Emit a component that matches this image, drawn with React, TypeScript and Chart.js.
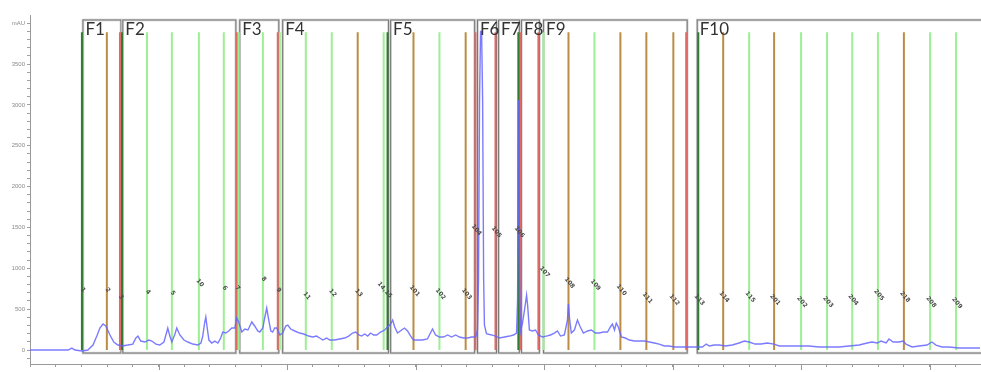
import React, { useEffect, useRef } from "react";
import { Chart, registerables } from "chart.js";

Chart.register(...registerables);

// Chromatogram trace (retention units, mAU)
const retention = [
  0, 1.17, 1.48, 1.63, 1.75, 2.02, 2.25, 2.45, 2.6, 2.72, 2.84, 2.95, 3.11, 3.26, 3.42, 3.58, 3.81, 4.0, 4.12, 4.2,
  4.31, 4.47, 4.62, 4.74, 4.9, 5.05, 5.21, 5.32, 5.36, 5.44, 5.52, 5.64, 5.71, 5.83, 5.99, 6.14, 6.33, 6.53, 6.65, 6.72,
  6.8, 6.84, 6.88, 6.96, 7.07, 7.19, 7.31, 7.42, 7.5, 7.62, 7.73, 7.85, 7.97, 8.04, 8.12, 8.24, 8.36, 8.48, 8.63, 8.74,
  8.86, 8.94, 9.06, 9.13, 9.21, 9.29, 9.37, 9.44, 9.52, 9.6, 9.72, 9.83, 9.95, 10.03, 10.14, 10.3, 10.49, 10.65, 10.84, 11.0,
  11.15, 11.27, 11.39, 11.54, 11.66, 11.85, 12.05, 12.24, 12.4, 12.55, 12.67, 12.79, 12.9, 13.02, 13.14, 13.25, 13.37, 13.49, 13.64, 13.8,
  13.91, 14.03, 14.11, 14.19, 14.3, 14.46, 14.57, 14.69, 14.81, 14.92, 15.08, 15.27, 15.46, 15.58, 15.66, 15.78, 15.93, 16.09, 16.25, 16.4,
  16.56, 16.71, 16.87, 17.03, 17.18, 17.34, 17.41, 17.45, 17.49, 17.53, 17.57, 17.61, 17.65, 17.68, 17.76, 17.88, 18.03, 18.15, 18.27, 18.46,
  18.66, 18.81, 18.93, 18.97, 19.01, 19.05, 19.08, 19.16, 19.24, 19.32, 19.36, 19.43, 19.55, 19.67, 19.78, 19.94, 20.09, 20.25, 20.4, 20.52,
  20.64, 20.79, 20.91, 20.95, 20.99, 21.06, 21.18, 21.3, 21.41, 21.53, 21.69, 21.84, 22.0, 22.15, 22.31, 22.47, 22.58, 22.66, 22.74, 22.81,
  22.89, 23.01, 23.16, 23.32, 23.51, 23.71, 23.9, 24.1, 24.29, 24.48, 24.68, 24.87, 25.07, 25.46, 25.84, 26.16, 26.31, 26.43, 26.62, 26.82,
  27.05, 27.32, 27.59, 27.79, 27.98, 28.21, 28.45, 28.68, 28.95, 29.15, 29.54, 29.93, 30.31, 30.7, 31.09, 31.48, 31.87, 32.26, 32.57, 32.76,
  32.96, 33.11, 33.31, 33.42, 33.58, 33.81, 33.97, 34.08, 34.32, 34.59, 34.9, 35.09, 35.25, 35.48, 35.76, 36.14, 36.53, 36.96,
];
const absorbance = [
  0, 0, 0, 24, 0, -12, 0, 61, 171, 269, 318, 294, 184, 98, 61, 49, 61, 73, 147, 171,
  110, 98, 122, 110, 73, 61, 98, 220, 269, 171, 98, 196, 269, 184, 122, 98, 73, 61, 86, 171,
  343, 404, 306, 122, 86, 110, 86, 147, 220, 208, 233, 269, 269, 392, 343, 220, 257, 245, 343, 294,
  233, 220, 269, 392, 514, 367, 233, 220, 269, 269, 184, 208, 294, 306, 257, 233, 208, 196, 171, 159,
  171, 147, 122, 147, 122, 122, 135, 147, 171, 208, 220, 184, 171, 196, 171, 208, 184, 184, 220, 245,
  282, 318, 367, 282, 208, 245, 269, 233, 171, 122, 122, 122, 135, 208, 257, 184, 159, 159, 184, 159,
  184, 159, 147, 147, 159, 159, 245, 857, 3060, 3900, 3900, 3060, 857, 306, 200, 190, 180, 165, 147, 159,
  171, 184, 208, 612, 3060, 857, 220, 330, 490, 673, 551, 245, 233, 245, 184, 159, 171, 184, 208, 233,
  171, 184, 367, 563, 392, 208, 245, 367, 282, 208, 233, 245, 208, 208, 220, 220, 282, 318, 245, 330,
  282, 159, 147, 122, 110, 110, 110, 98, 86, 73, 49, 49, 37, 37, 37, 37, 73, 49, 61, 61,
  49, 61, 86, 110, 98, 73, 73, 86, 73, 49, 49, 49, 49, 37, 37, 37, 49, 61, 86, 98,
  86, 110, 86, 135, 98, 98, 110, 73, 37, 49, 61, 98, 61, 37, 37, 24, 24, 24,
];

// Fraction-collector marks
const fractionPos = [
  2.02, 2.99, 3.5, 3.58, 4.55, 5.52, 6.57, 7.54, 8.04, 8.12, 9.06, 9.64, 9.72, 10.73, 11.74, 12.75, 13.76, 13.91,
  14.92, 15.93, 16.95, 17.33, 18.11, 19.0, 19.08, 19.78, 19.98, 20.95, 21.96, 22.97, 23.98, 25.03, 25.53, 26.0,
  26.97, 27.98, 28.95, 30.0, 31.01, 31.99, 32.99, 34.0, 35.02, 36.03,
];
const fractionKind = [
  "d", "b", "r", "d", "g", "g", "g", "g", "r", "g", "g", "r", "g", "g", "g", "b", "g", "d",
  "b", "g", "b", "r", "r", "d", "r", "r", "g", "b", "g", "b", "b", "b", "r", "d",
  "b", "g", "b", "g", "g", "g", "g", "b", "g", "g",
];
const fractionLabel = [
  "1", "2", "3", "", "4", "5", "10", "6", "7", "", "8", "9", "", "11", "12", "13", "14,15", "",
  "101", "102", "103", "104", "105", "106", "", "", "107", "108", "109", "110", "111", "112", "", "113",
  "114", "115", "201", "202", "203", "204", "205", "218", "208", "209",
];
const fractionLabelY = [
  734, 734, 649, 0, 710, 698, 820, 759, 759, 0, 869, 734, 0, 661, 698, 698, 734, 0,
  722, 685, 685, 1469, 1444, 1444, 0, 0, 955, 820, 796, 734, 636, 612, 0, 612,
  649, 649, 612, 587, 587, 612, 673, 649, 587, 575,
];
const FRACTION_TOP = 3890;

// Fraction pools
const boxNames = ["F1", "F2", "F3", "F4", "F5", "F6", "F7", "F8", "F9", "F10"];
const boxStart = [2.06, 3.61, 8.16, 9.83, 14.03, 17.41, 18.23, 19.12, 19.98, 25.96];
const boxEnd = [3.54, 8.01, 9.68, 13.95, 17.3, 18.15, 19.04, 19.82, 25.57, 38.5];
const BOX_TOP = 4039;
const BOX_BOTTOM = -37;

const yLabelValues = [0, 500, 1000, 1500, 2000, 2500, 3000, 3500];
const yUnitLabel = "mAU";

const kindColor: Record<string, string> = {
  g: "#9cef92",
  b: "#bb8d44",
  r: "#e26a66",
  d: "#2f7d34",
};

const overlayPlugin = {
  id: "fractionOverlay",
  beforeDatasetsDraw(chart: any) {
    const { ctx, chartArea, scales } = chart;
    const x = scales.x;
    const y = scales.y;
    ctx.save();
    ctx.beginPath();
    ctx.rect(chartArea.left, 0, chartArea.right - chartArea.left, chart.height);
    ctx.clip();
    const t = y.getPixelForValue(BOX_TOP);
    const b = y.getPixelForValue(BOX_BOTTOM);
    boxNames.forEach((_, i) => {
      const l = x.getPixelForValue(boxStart[i]);
      const r = x.getPixelForValue(boxEnd[i]);
      ctx.strokeStyle = "#d2d2d2";
      ctx.lineWidth = 2.6;
      ctx.strokeRect(l, t, r - l, b - t);
      ctx.strokeStyle = "#777";
      ctx.lineWidth = 1;
      ctx.strokeRect(l, t, r - l, b - t);
    });
    ctx.restore();
  },
  afterDatasetsDraw(chart: any) {
    const { ctx, scales } = chart;
    const x = scales.x;
    const y = scales.y;
    ctx.save();
    // pool names
    ctx.fillStyle = "#333";
    ctx.font = "17px Lato, 'Open Sans', sans-serif";
    ctx.textBaseline = "alphabetic";
    ctx.textAlign = "left";
    const t = y.getPixelForValue(BOX_TOP);
    boxNames.forEach((name, i) => {
      const l = x.getPixelForValue(boxStart[i]);
      ctx.fillText(name, l + 2.5, t + 15.5);
    });
    // rotated tube numbers
    ctx.font = "bold 6px 'DejaVu Sans', sans-serif";
    ctx.fillStyle = "#4a4a4a";
    ctx.textAlign = "center";
    ctx.textBaseline = "middle";
    fractionLabel.forEach((lab, i) => {
      if (!lab) return;
      const px = x.getPixelForValue(fractionPos[i]) + 1;
      const py = y.getPixelForValue(fractionLabelY[i]);
      ctx.save();
      ctx.translate(px, py);
      ctx.rotate((50 * Math.PI) / 180);
      ctx.fillText(lab, 0, 0);
      ctx.restore();
    });
    // longer major ticks on x axis
    ctx.strokeStyle = "#999";
    ctx.lineWidth = 1;
    const base = chart.chartArea.bottom;
    for (let v = 5; v <= 35; v += 5) {
      const px = Math.round(x.getPixelForValue(v)) + 0.5;
      ctx.beginPath();
      ctx.moveTo(px, base);
      ctx.lineTo(px, base + 6);
      ctx.stroke();
    }
    ctx.restore();
  },
};

export default function App() {
  const ref = useRef<HTMLCanvasElement | null>(null);

  useEffect(() => {
    if (!ref.current) return;
    const trace = retention.map((r, i) => ({ x: r, y: absorbance[i] }));
    const fractionSets = fractionPos.map((p, i) => ({
      data: [
        { x: p, y: 0 },
        { x: p, y: FRACTION_TOP },
      ],
      borderColor: kindColor[fractionKind[i]],
      borderWidth: 2,
      pointRadius: 0,
      fill: false,
    }));
    const chart = new Chart(ref.current, {
      type: "line",
      data: {
        datasets: [
          {
            data: trace,
            borderColor: "rgba(100,100,255,0.85)",
            borderWidth: 1.4,
            pointRadius: 0,
            tension: 0,
            fill: false,
          },
          ...fractionSets,
        ] as any,
      },
      options: {
        animation: false,
        responsive: true,
        maintainAspectRatio: false,
        layout: { padding: { top: 15, right: 0, bottom: 0, left: 0 }, autoPadding: false } as any,
        plugins: { legend: { display: false }, tooltip: { enabled: false } },
        scales: {
          x: {
            type: "linear",
            min: 0,
            max: 37,
            ticks: { stepSize: 1, display: false },
            grid: { drawOnChartArea: false, drawTicks: true, tickLength: 3, color: "#9a9a9a" },
            border: { color: "#9a9a9a", width: 1 },
            afterFit: (s: any) => {
              s.height = 8;
            },
          },
          y: {
            type: "linear",
            min: -171,
            max: 4100,
            afterBuildTicks: (s: any) => {
              const ticks: any[] = [];
              for (let v = -100; v <= 4000; v += 100) ticks.push({ value: v });
              s.ticks = ticks;
            },
            ticks: {
              autoSkip: false,
              maxRotation: 0,
              padding: 2,
              color: "#8a8a8a",
              font: { size: 6, family: "'Liberation Sans', Arial, sans-serif" },
              callback: (v: any) => {
                const n = Number(v);
                if (n === 4000) return yUnitLabel;
                return yLabelValues.includes(n) ? String(n) : "";
              },
            },
            grid: { drawOnChartArea: false, drawTicks: true, tickLength: 3, color: "#a0a0a0" },
            border: { color: "#9a9a9a", width: 1 },
            afterFit: (s: any) => {
              s.width = 30;
            },
          },
        },
      },
      plugins: [overlayPlugin],
    });
    return () => chart.destroy();
  }, []);

  return (
    <div style={{ position: "absolute", left: 0, top: 0, width: 981, height: 372, background: "#fff" }}>
      <canvas ref={ref} />
    </div>
  );
}
